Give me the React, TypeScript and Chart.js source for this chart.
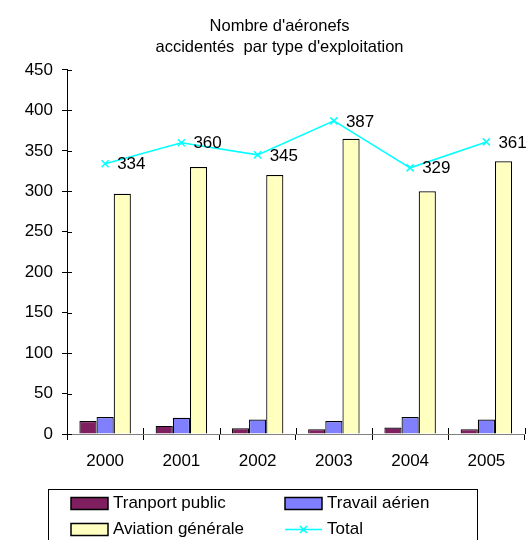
import React, { useEffect, useRef } from 'react';
import { Chart, registerables } from 'chart.js';

Chart.register(...registerables);

const years = ['2000', '2001', '2002', '2003', '2004', '2005'];
const transportPublic = [16, 10, 7, 6, 8, 6];
const travailAerien = [21, 20, 18, 16, 21, 18];
const aviationGenerale = [297, 330, 320, 365, 300, 337];
const total = [334, 360, 345, 387, 329, 361];
const seriesLabels = ['Tranport public', 'Travail aérien', 'Aviation générale', 'Total'];
const titleLines = ["Nombre d'aéronefs", "accidentés  par type d'exploitation"];
const yMin = 0;
const yMax = 450;
const yStep = 50;

const FONT = "'Liberation Sans', Arial, sans-serif";

const innerTicks = {
  id: 'innerTicks',
  afterDraw(chart: any) {
    const ctx = chart.ctx;
    const ys = chart.scales.y;
    const xs = chart.scales.x;
    ctx.save();
    ctx.strokeStyle = '#000';
    ctx.lineWidth = 1;
    ctx.beginPath();
    ys.ticks.forEach((_t: any, i: number) => {
      const py = Math.round(ys.getPixelForTick(i)) + 0.5;
      ctx.moveTo(ys.right, py);
      ctx.lineTo(ys.right + 5, py);
    });
    const n = xs.ticks.length;
    const w = (xs.right - xs.left) / n;
    for (let i = 0; i <= n; i++) {
      const px = Math.round(xs.left + i * w) + 0.5;
      ctx.moveTo(px, xs.top);
      ctx.lineTo(px, xs.top - 6);
    }
    ctx.stroke();
    ctx.restore();
  },
};

const pointLabels = {
  id: 'pointLabels',
  afterDatasetsDraw(chart: any) {
    const ctx = chart.ctx;
    chart.data.datasets.forEach((ds: any, i: number) => {
      if (ds.type !== 'line') return;
      const meta = chart.getDatasetMeta(i);
      ctx.save();
      ctx.font = `17px ${FONT}`;
      ctx.fillStyle = '#000';
      ctx.textAlign = 'left';
      ctx.textBaseline = 'middle';
      meta.data.forEach((pt: any, j: number) => {
        ctx.fillText(String(ds.data[j]), pt.x + 12, pt.y + 1);
      });
      ctx.restore();
    });
  },
};

const boxLegend = {
  id: 'boxLegend',
  afterDraw(chart: any) {
    const ctx = chart.ctx;
    const L = { left: 48, top: 489, width: 429, height: 80, baselines: [508, 534], cols: [71, 285], swW: 37, swH: 12, gap: 5 };
    ctx.save();
    ctx.strokeStyle = '#000';
    ctx.lineWidth = 1;
    ctx.strokeRect(L.left + 0.5, L.top + 0.5, L.width, L.height);
    ctx.font = `17px ${FONT}`;
    ctx.textAlign = 'left';
    ctx.textBaseline = 'alphabetic';
    chart.data.datasets.forEach((ds: any, i: number) => {
      const cx = L.cols[i % 2];
      const base = L.baselines[Math.floor(i / 2)];
      const top = base - 10.5;
      if (ds.type === 'line') {
        const my = top + L.swH / 2;
        ctx.strokeStyle = ds.borderColor;
        ctx.lineWidth = 1.5;
        ctx.beginPath();
        ctx.moveTo(cx, my);
        ctx.lineTo(cx + L.swW, my);
        const mx = cx + L.swW / 2;
        const r = 3.5;
        ctx.moveTo(mx - r, my - r);
        ctx.lineTo(mx + r, my + r);
        ctx.moveTo(mx - r, my + r);
        ctx.lineTo(mx + r, my - r);
        ctx.stroke();
      } else {
        ctx.fillStyle = ds.backgroundColor;
        ctx.fillRect(cx, top, L.swW, L.swH);
        ctx.strokeStyle = '#000';
        ctx.lineWidth = 1.5;
        ctx.strokeRect(cx, top, L.swW, L.swH);
      }
      ctx.fillStyle = '#000';
      ctx.fillText(ds.label, cx + L.swW + L.gap, base);
    });
    ctx.restore();
  },
};

export default function App() {
  const ref = useRef<HTMLCanvasElement>(null);
  useEffect(() => {
    if (!ref.current) return;
    Chart.defaults.font.family = FONT;
    Chart.defaults.color = '#000';
    const barCommon = { borderColor: '#000', borderWidth: 1.2, categoryPercentage: 0.675, barPercentage: 1, order: 1 };
    const chart = new Chart(ref.current, {
      type: 'bar',
      data: {
        labels: years,
        datasets: [
          { ...barCommon, type: 'bar', label: seriesLabels[0], data: transportPublic, backgroundColor: '#7F1F5F' },
          { ...barCommon, type: 'bar', label: seriesLabels[1], data: travailAerien, backgroundColor: '#8080FF' },
          { ...barCommon, type: 'bar', label: seriesLabels[2], data: aviationGenerale, backgroundColor: '#FFFFC0' },
          {
            type: 'line', label: seriesLabels[3], data: total, order: 0,
            borderColor: '#00FFFF', borderWidth: 1.5, pointStyle: 'crossRot', pointRadius: 5,
            pointBorderColor: '#00FFFF', pointBorderWidth: 1.5, pointBackgroundColor: '#00FFFF', tension: 0,
          },
        ] as any,
      },
      options: {
        responsive: false,
        animation: false,
        layout: { padding: { left: 30, right: 2, top: 0, bottom: 66 } },
        plugins: {
          legend: { display: false },
          tooltip: { enabled: false },
          title: {
            display: true,
            text: titleLines,
            color: '#000',
            font: { size: 16.5, weight: 'normal', family: FONT, lineHeight: 1.27 },
            padding: { top: 16, bottom: 12 },
          },
        },
        scales: {
          x: {
            grid: { display: true, drawOnChartArea: false, tickLength: 6, color: '#000', offset: true },
            border: { display: true, color: '#808080', width: 1 },
            ticks: { font: { size: 17 }, color: '#000', padding: 11, maxRotation: 0 },
            afterFit: (s: any) => { s.height = 40; },
          },
          y: {
            min: yMin,
            max: yMax,
            grid: { display: true, drawOnChartArea: false, tickLength: 5, color: '#000' },
            border: { display: true, color: '#000', width: 1 },
            ticks: { stepSize: yStep, font: { size: 17 }, color: '#000', padding: 9 },
            afterFit: (s: any) => {
              s.width = 37;
              // let the tick labels extend into the left padding instead of being clipped
              s._computeLabelArea = () => undefined;
            },
          },
        },
      } as any,
      plugins: [innerTicks, pointLabels, boxLegend],
    });
    return () => chart.destroy();
  }, []);
  return (
    <div style={{ position: 'absolute', left: 0, top: 0, width: 531, height: 540, background: '#fff' }}>
      <canvas ref={ref} width={531} height={540} />
    </div>
  );
}
